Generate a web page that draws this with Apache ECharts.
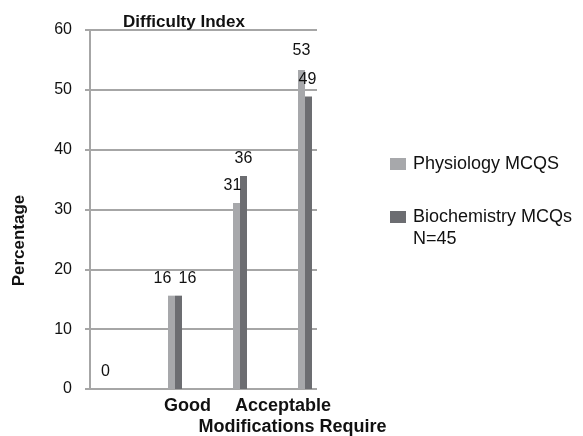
<!DOCTYPE html>
<html>
<head>
<meta charset="utf-8">
<script src="https://cdn.jsdelivr.net/npm/echarts@6/dist/echarts.min.js"></script>
<style>html,body{margin:0;padding:0;background:#fff}#c{width:583px;height:436px}</style>
</head>
<body>
<div id="c"></div>
<script>
// ---- data ----
const titleText = 'Difficulty Index';
const yAxisName = 'Percentage';
const categories = ['', 'Good', 'Acceptable', 'Modifications Require'];
const seriesNames = ['Physiology MCQS', 'Biochemistry MCQs\nN=45'];
const physiology = [0, 15.6, 31.1, 53.3];
const biochemistry = [0, 15.6, 35.6, 48.9];
const yMin = 0, yMax = 60, yStep = 10;

// ---- styling helpers (not data) ----
const FONT = 'Liberation Sans, Arial, sans-serif';
const physLabelOffsets = [[-1, 0], [-9, 0], [-4, 0], [0, -2]];
const bioLabelOffsets = [null, [9, 0], [0, 0], [-1, 0]];

function buildData(values, offsets) {
  return values.map((v, i) => ({
    value: v,
    label: offsets[i] ? { show: true, offset: offsets[i] } : { show: false }
  }));
}

const chart = echarts.init(document.getElementById('c'), null, { renderer: 'canvas' });
const gridTop = 30, gridBottom = 47;
const xl = { fontFamily: FONT, fontSize: 18, fontWeight: 'bold', color: '#111' };
const option = {
  animation: false,
  backgroundColor: '#ffffff',
  title: {
    text: titleText, left: 118, top: 9,
    textStyle: { fontFamily: FONT, fontSize: 17, fontWeight: 'bold', color: '#111' }
  },
  legend: {
    orient: 'vertical', left: 390, top: 153, padding: 0, itemGap: 9,
    icon: 'rect', itemWidth: 16, itemHeight: 12,
    data: seriesNames,
    formatter: name => (name.indexOf('\n') >= 0 ? '\u00a0\n' + name : name),
    textStyle: { fontFamily: FONT, fontSize: 18, color: '#111', lineHeight: 22, padding: [0, 0, 0, 2] }
  },
  grid: [
    { left: 90, right: 266, top: gridTop, bottom: gridBottom, containLabel: false, outerBoundsMode: 'none' },
    { left: 77.5, right: 245.5, top: gridTop, bottom: gridBottom, containLabel: false, outerBoundsMode: 'none' }
  ],
  xAxis: [
    { type: 'category', gridIndex: 0, data: categories, show: false },
    {
      type: 'category', gridIndex: 1, data: categories,
      axisLine: { show: false }, axisTick: { show: false },
      axisLabel: Object.assign({
        interval: 0, margin: 8,
        formatter: (v, i) => v ? '{c' + i + '|' + v + '}' : '',
        rich: {
          c1: Object.assign({ padding: [0, 0, 0, 25] }, xl),
          c2: Object.assign({ padding: [0, 0, 0, 86] }, xl),
          c3: Object.assign({ padding: [21, 25, 0, 0] }, xl)
        }
      }, xl)
    }
  ],
  yAxis: [
    {
      type: 'value', gridIndex: 0, min: yMin, max: yMax, interval: yStep,
      name: yAxisName, nameLocation: 'middle', nameGap: 62, nameRotate: 90,
      nameTextStyle: { fontFamily: FONT, fontSize: 17, fontWeight: 'bold', color: '#111', padding: [0, 62, 0, 0] },
      axisLine: { show: true, lineStyle: { color: '#a6a6a6', width: 2 } },
      axisTick: { show: true, length: 5, lineStyle: { color: '#a6a6a6', width: 2 } },
      axisLabel: { margin: 18, fontFamily: FONT, fontSize: 16, color: '#111' },
      splitLine: { show: true, lineStyle: { color: '#a6a6a6', width: 2 } }
    },
    { type: 'value', gridIndex: 1, min: yMin, max: yMax, interval: yStep, show: false, splitLine: { show: false } }
  ],
  series: [
    {
      name: seriesNames[0], type: 'bar', xAxisIndex: 1, yAxisIndex: 1,
      barWidth: 7, barGap: '0%',
      itemStyle: { color: '#a7a8ab' },
      label: { show: true, position: 'top', distance: 9, fontFamily: FONT, fontSize: 16, color: '#111',
        formatter: p => Math.round(p.value) },
      data: buildData(physiology, physLabelOffsets)
    },
    {
      name: seriesNames[1], type: 'bar', xAxisIndex: 1, yAxisIndex: 1,
      barWidth: 7, barGap: '0%',
      itemStyle: { color: '#6c6d71' },
      label: { show: true, position: 'top', distance: 9, fontFamily: FONT, fontSize: 16, color: '#111',
        formatter: p => Math.round(p.value) },
      data: buildData(biochemistry, bioLabelOffsets)
    }
  ]
};
chart.setOption(option);
</script>
</body>
</html>
